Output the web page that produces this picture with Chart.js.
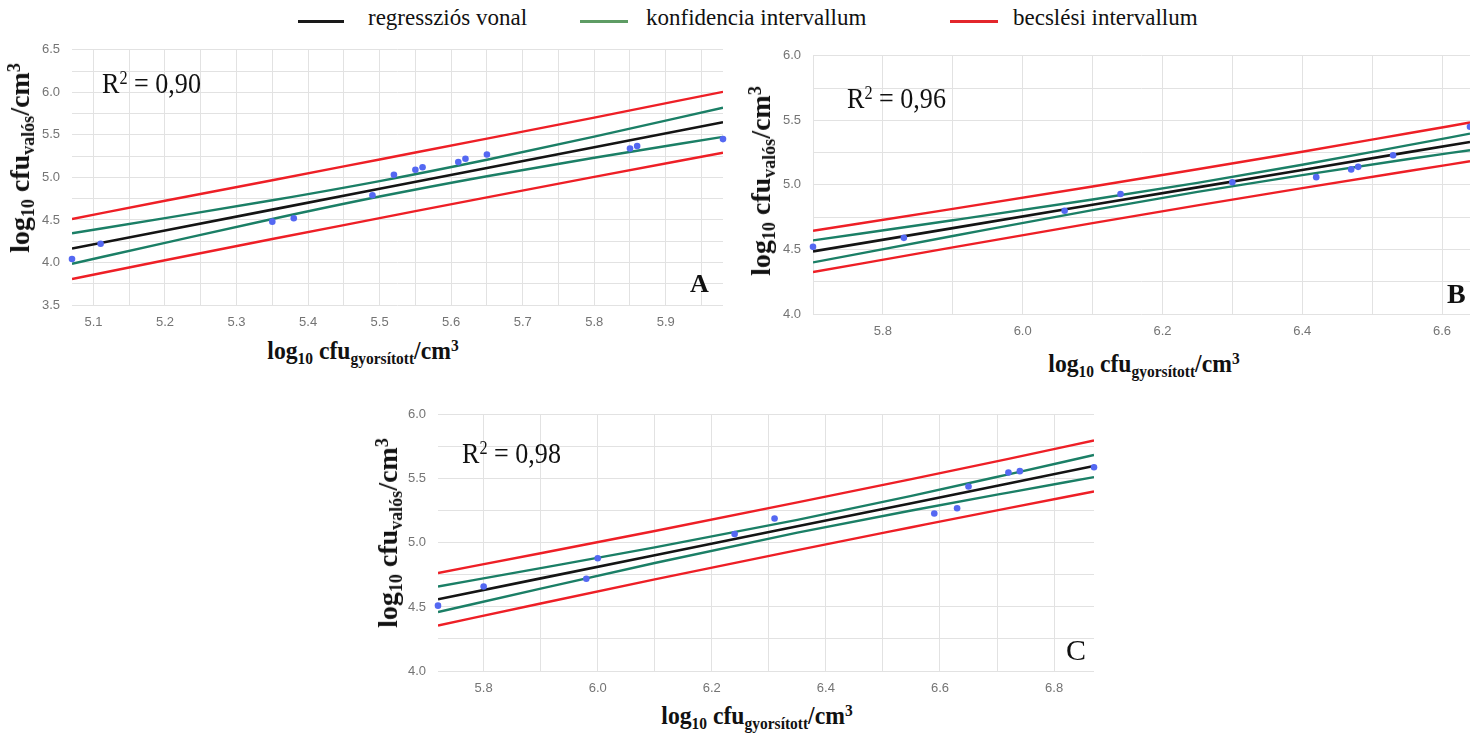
<!DOCTYPE html>
<html>
<head>
<meta charset="utf-8">
<script src="https://cdn.jsdelivr.net/npm/chart.js@4.4.1/dist/chart.umd.min.js"></script>
<style>
  html, body { margin: 0; padding: 0; background: #fff; }
  body { width: 1470px; height: 738px; overflow: hidden; position: relative;
         font-family: "Liberation Serif", "Times New Roman", serif; color: #111; }
  canvas { position: absolute; }
  .txt { position: absolute; white-space: nowrap; line-height: 1; }
  .txt .sub, .txt .sup { line-height: 0; position: relative; }
  .legend-line { position: absolute; height: 3px; }
  .bold { font-weight: bold; }
</style>
</head>
<body>
<canvas id="panelA"></canvas>
<canvas id="panelB"></canvas>
<canvas id="panelC"></canvas>

<script>
// ---- Legend ----
const legendLabels = ['regressziós vonal', 'konfidencia intervallum', 'becslési intervallum'];

// ---- Panel A ----
const aPointX = [5.07, 5.11, 5.35, 5.38, 5.49, 5.52, 5.55, 5.56, 5.61, 5.62, 5.65, 5.85, 5.86, 5.98];
const aPointY = [4.04, 4.22, 4.48, 4.52, 4.79, 5.03, 5.09, 5.12, 5.18, 5.22, 5.27, 5.34, 5.37, 5.45];
const aLineX  = [5.07, 5.20, 5.35, 5.50, 5.65, 5.80, 5.98];
const aFit    = [4.164, 4.376, 4.621, 4.866, 5.111, 5.355, 5.648];
const aConfHi = [4.343, 4.521, 4.731, 4.957, 5.208, 5.479, 5.819];
const aConfLo = [3.985, 4.231, 4.511, 4.775, 5.014, 5.231, 5.477];
const aPredHi = [4.510, 4.726, 4.966, 5.211, 5.456, 5.703, 6.006];
const aPredLo = [3.805, 4.026, 4.276, 4.521, 4.766, 5.007, 5.290];
const aXLabels = ['5.1', '5.2', '5.3', '5.4', '5.5', '5.6', '5.7', '5.8', '5.9'];
const aYLabels = ['3.5', '4.0', '4.5', '5.0', '5.5', '6.0', '6.5'];
const aR2 = '0,90';

// ---- Panel B ----
const bPointX = [5.70, 5.83, 6.06, 6.14, 6.30, 6.42, 6.47, 6.48, 6.53, 6.64];
const bPointY = [4.52, 4.59, 4.80, 4.93, 5.02, 5.06, 5.12, 5.14, 5.23, 5.45];
const bLineX  = [5.70, 5.90, 6.10, 6.25, 6.40, 6.55, 6.64];
const bFit    = [4.485, 4.665, 4.846, 4.981, 5.116, 5.252, 5.333];
const bConfHi = [4.570, 4.726, 4.887, 5.016, 5.156, 5.306, 5.397];
const bConfLo = [4.400, 4.604, 4.805, 4.946, 5.076, 5.199, 5.269];
const bPredHi = [4.645, 4.814, 4.988, 5.121, 5.257, 5.398, 5.483];
const bPredLo = [4.325, 4.516, 4.704, 4.841, 4.975, 5.106, 5.183];
const bXLabels = ['5.8', '6.0', '6.2', '6.4', '6.6'];
const bYLabels = ['4.0', '4.5', '5.0', '5.5', '6.0'];
const bR2 = '0,96';

// ---- Panel C ----
const cPointX = [5.72, 5.80, 5.98, 6.00, 6.24, 6.31, 6.59, 6.63, 6.65, 6.72, 6.74, 6.87];
const cPointY = [4.51, 4.66, 4.72, 4.88, 5.07, 5.19, 5.23, 5.27, 5.44, 5.55, 5.56, 5.59];
const cLineX  = [5.72, 5.90, 6.10, 6.35, 6.55, 6.72, 6.87];
const cFit    = [4.560, 4.723, 4.904, 5.130, 5.310, 5.464, 5.600];
const cConfHi = [4.660, 4.803, 4.965, 5.180, 5.367, 5.535, 5.686];
const cConfLo = [4.460, 4.643, 4.843, 5.080, 5.253, 5.393, 5.514];
const cPredHi = [4.765, 4.919, 5.093, 5.316, 5.498, 5.656, 5.799];
const cPredLo = [4.355, 4.527, 4.715, 4.944, 5.122, 5.272, 5.401];
const cXLabels = ['5.8', '6.0', '6.2', '6.4', '6.6', '6.8'];
const cYLabels = ['4.0', '4.5', '5.0', '5.5', '6.0'];
const cR2 = '0,98';

// ---- Styling ----
const COL_FIT = '#141414';
const COL_CONF = '#1b7f66';
const COL_PRED = '#ee1f26';
const COL_POINT = '#5468f2';
const COL_GRID = '#e2e2e2';
const COL_TICK = '#747474';

function pairs(xs, ys) { return xs.map((x, i) => ({ x: x, y: ys[i] })); }

function lineSet(xs, ys, color, width, smooth) {
  return {
    type: 'scatter', showLine: true, data: pairs(xs, ys),
    borderColor: color, borderWidth: width, pointRadius: 0,
    tension: smooth ? 0.4 : 0, cubicInterpolationMode: smooth ? 'monotone' : 'default',
    order: 1
  };
}

function tickLabeler(labels) {
  return function (v) {
    const s = Number(v).toFixed(1);
    return (labels.includes(s) && Math.abs(v - Number(s)) < 1e-6) ? s : '';
  };
}

function gridTicks(step) {
  return function (scale) {
    const ticks = [];
    const start = Math.ceil((scale.min - 1e-9) / step);
    for (let k = start; k * step <= scale.max + 1e-9; k++) {
      ticks.push({ value: +(k * step).toFixed(4) });
    }
    scale.ticks = ticks;
  };
}

function panelConfig(range, grid, d, pad) {
  const tickFont = { family: '"Liberation Sans", Arial, sans-serif', size: 13 };
  return {
    type: 'scatter',
    data: {
      datasets: [
        { type: 'scatter', data: pairs(d.px, d.py), pointRadius: 3.3, pointBackgroundColor: COL_POINT,
          pointBorderWidth: 0, backgroundColor: COL_POINT, order: 0, clip: false },
        lineSet(d.lx, d.fit, COL_FIT, 2.6, false),
        lineSet(d.lx, d.confHi, COL_CONF, 2.4, true),
        lineSet(d.lx, d.confLo, COL_CONF, 2.4, true),
        lineSet(d.lx, d.predHi, COL_PRED, 2.4, true),
        lineSet(d.lx, d.predLo, COL_PRED, 2.4, true)
      ]
    },
    options: {
      responsive: false, animation: false, devicePixelRatio: 1,
      layout: { padding: { top: pad.t, right: pad.r, left: 0, bottom: 0 } },
      plugins: { legend: { display: false }, tooltip: { enabled: false } },
      scales: {
        x: {
          type: 'linear', min: range.x[0], max: range.x[1],
          afterBuildTicks: gridTicks(grid.x),
          afterFit: (s) => { s.height = pad.b; },
          ticks: { callback: tickLabeler(d.xLabels), color: COL_TICK, font: tickFont,
                   padding: 10, maxRotation: 0, autoSkip: false },
          grid: { color: COL_GRID, drawTicks: false },
          border: { display: false }
        },
        y: {
          type: 'linear', min: range.y[0], max: range.y[1],
          afterBuildTicks: gridTicks(grid.y),
          afterFit: (s) => { s.width = pad.l; },
          ticks: { callback: tickLabeler(d.yLabels), color: COL_TICK, font: tickFont,
                   padding: 12, autoSkip: false },
          grid: { color: COL_GRID, drawTicks: false },
          border: { display: false }
        }
      }
    }
  };
}

// Places a chart so that its plot area lands on the given page rectangle:
// lay it out once, measure where the plot area ended up, then grow the canvas by the difference.
function buildPanel(id, area, range, grid, d) {
  const pad = { l: 60, t: 12, b: 30, r: area.right >= 1470 ? 0 : 12 };
  const cv = document.getElementById(id);
  let ext = { l: 0, t: 0, r: 0, b: 0 };
  let chart = null;
  for (let pass = 0; pass < 2; pass++) {
    if (chart) chart.destroy();
    cv.width = area.right - area.left + pad.l + pad.r + ext.l + ext.r;
    cv.height = area.bottom - area.top + pad.t + pad.b + ext.t + ext.b;
    cv.style.left = (area.left - pad.l - ext.l) + 'px';
    cv.style.top = (area.top - pad.t - ext.t) + 'px';
    chart = new Chart(cv, panelConfig(range, grid, d, pad));
    const ca = chart.chartArea;
    const wantL = pad.l + ext.l, wantT = pad.t + ext.t;
    const wantR = cv.width - pad.r - ext.r, wantB = cv.height - pad.b - ext.b;
    const dl = ca.left - wantL, dt = ca.top - wantT;
    const dr = wantR - ca.right, db = wantB - ca.bottom;
    if (Math.abs(dl) < 0.5 && Math.abs(dt) < 0.5 && Math.abs(dr) < 0.5 && Math.abs(db) < 0.5) break;
    ext = { l: ext.l + dl, t: ext.t + dt, r: ext.r + dr, b: ext.b + db };
  }
  return chart;
}

buildPanel('panelA', { left: 72, top: 50, right: 723, bottom: 306 },
  { x: [5.07, 5.98], y: [3.5, 6.5] }, { x: 0.05, y: 0.25 },
  { px: aPointX, py: aPointY, lx: aLineX, fit: aFit, confHi: aConfHi, confLo: aConfLo,
    predHi: aPredHi, predLo: aPredLo, xLabels: aXLabels, yLabels: aYLabels });

buildPanel('panelB', { left: 813, top: 56, right: 1470, bottom: 315 },
  { x: [5.70, 6.64], y: [4.0, 6.0] }, { x: 0.1, y: 0.25 },
  { px: bPointX, py: bPointY, lx: bLineX, fit: bFit, confHi: bConfHi, confLo: bConfLo,
    predHi: bPredHi, predLo: bPredLo, xLabels: bXLabels, yLabels: bYLabels });

buildPanel('panelC', { left: 438, top: 415, right: 1094, bottom: 672 },
  { x: [5.72, 6.87], y: [4.0, 6.0] }, { x: 0.1, y: 0.25 },
  { px: cPointX, py: cPointY, lx: cLineX, fit: cFit, confHi: cConfHi, confLo: cConfLo,
    predHi: cPredHi, predLo: cPredLo, xLabels: cXLabels, yLabels: cYLabels });

// ---- Text: legend, titles, R², panel letters ----
function addText(html, opts) {
  const el = document.createElement('div');
  el.className = 'txt' + (opts.bold ? ' bold' : '');
  el.innerHTML = html;
  el.style.fontSize = opts.size + 'px';
  el.style.top = (opts.baseline - 0.8375 * opts.size) + 'px';
  el.style.left = opts.x + 'px';
  if (opts.transform) el.style.transform = opts.transform;
  if (opts.origin) el.style.transformOrigin = opts.origin;
  document.body.appendChild(el);
  return el;
}

function addLegendLine(x, w, y, color) {
  const el = document.createElement('div');
  el.className = 'legend-line';
  el.style.left = x + 'px'; el.style.width = w + 'px';
  el.style.top = (y - 1.5) + 'px'; el.style.background = color;
  document.body.appendChild(el);
}

addLegendLine(298, 46, 21, '#1a1a1a');
addLegendLine(580, 48, 21, '#5e9c64');
addLegendLine(950, 48, 21, '#e3262b');
addText(legendLabels[0], { x: 368, baseline: 25, size: 23 });
addText(legendLabels[1], { x: 646, baseline: 25, size: 23 });
addText(legendLabels[2], { x: 1013, baseline: 25, size: 23 });

const sub = (t, s) => '<span class="sub" style="font-size:' + s + 'px;top:0.28em">' + t + '</span>';
const sup = (t, s) => '<span class="sup" style="font-size:' + s + 'px;top:-0.5em">' + t + '</span>';

const yTitle = 'log' + sub('10', 18) + ' cfu' + sub('valós', 18) + '/cm' + sup('3', 18);
const xTitle = 'log' + sub('10', 17) + ' cfu' + sub('gyorsított', 17) + '/cm' + sup('3', 17);

function addYTitle(cx, cy) {
  const el = document.createElement('div');
  el.className = 'txt bold';
  el.innerHTML = yTitle;
  el.style.fontSize = '28px';
  el.style.left = cx + 'px';
  el.style.top = cy + 'px';
  el.style.transform = 'translate(-50%, -50%) rotate(-90deg)';
  document.body.appendChild(el);
}
addYTitle(20, 158);
addYTitle(761, 181);
addYTitle(388, 533);

addText(xTitle, { x: 363, baseline: 360, size: 26, bold: true, transform: 'translateX(-50%) scaleX(0.91)' });
addText(xTitle, { x: 1144, baseline: 373, size: 26, bold: true, transform: 'translateX(-50%) scaleX(0.91)' });
addText(xTitle, { x: 757, baseline: 725, size: 26, bold: true, transform: 'translateX(-50%) scaleX(0.91)' });

const r2 = (v) => 'R' + sup('2', 18) + ' = ' + v;
addText(r2(aR2), { x: 102, baseline: 93, size: 29, transform: 'scaleX(0.9)', origin: 'left center' });
addText(r2(bR2), { x: 847, baseline: 108, size: 29, transform: 'scaleX(0.9)', origin: 'left center' });
addText(r2(cR2), { x: 462, baseline: 463, size: 29, transform: 'scaleX(0.9)', origin: 'left center' });

addText('A', { x: 690, baseline: 293, size: 26, bold: true });
addText('B', { x: 1447, baseline: 303, size: 28, bold: true });
addText('C', { x: 1066, baseline: 660, size: 30 });
</script>
</body>
</html>
